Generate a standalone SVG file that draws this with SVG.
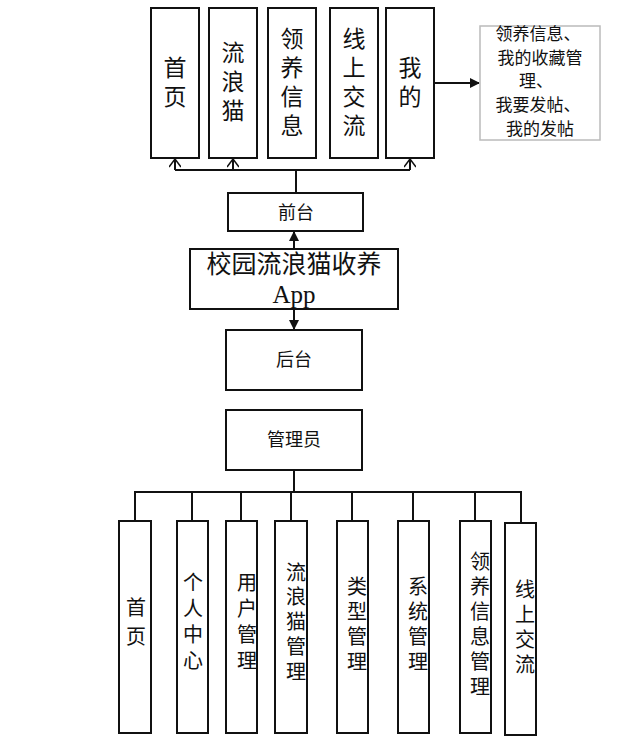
<svg xmlns="http://www.w3.org/2000/svg" width="630" height="737" viewBox="0 0 630 737">
<defs>
<style>
.b{fill:#fff;stroke:#111;stroke-width:2}
.t{font-family:"Liberation Serif","Noto Sans CJK SC",serif;fill:#111;text-anchor:middle}
.l{fill:none;stroke:#111;stroke-width:2}
.big{font-size:23px}.mid{font-size:17px}.sm{font-size:18px}.v{font-size:20px}
</style>
<marker id="f" markerWidth="10" markerHeight="10" refX="9" refY="5" orient="auto" markerUnits="userSpaceOnUse"><path d="M0,0L10,5L0,10z" fill="#111"/></marker>
<marker id="o" markerWidth="12" markerHeight="12" refX="10" refY="6" orient="auto" markerUnits="userSpaceOnUse"><path d="M2,0L10,6L2,12" fill="none" stroke="#111" stroke-width="1.5"/></marker>
</defs>
<rect width="630" height="737" fill="#fff"/>
<g id="connectors">
<path class="l" d="M175,170H410M296,170V193"/>
<path class="l" d="M175,170V159" marker-end="url(#o)"/>
<path class="l" d="M233,170V159" marker-end="url(#o)"/>
<path class="l" d="M410,170V159" marker-end="url(#o)"/>
<path class="l" d="M434,83H479" marker-end="url(#f)"/>
<path class="l" d="M294,249V232" marker-end="url(#f)"/>
<path class="l" d="M294,309V329" marker-end="url(#f)"/>
<path class="l" d="M294,470V492M135,521V492H521V523M192,492V521M241,492V521M291,492V521M352,492V521M413,492V521M475,492V521"/>
</g>
<g id="n1"><rect class="b" x="151" y="8" width="48" height="150"/><text class="t big"><tspan x="175" y="76">首</tspan><tspan x="175" y="105">页</tspan></text></g>
<g id="n2"><rect class="b" x="209" y="8" width="48" height="150"/><text class="t big"><tspan x="233" y="61">流</tspan><tspan x="233" y="90">浪</tspan><tspan x="233" y="119">猫</tspan></text></g>
<g id="n3"><rect class="b" x="268" y="8" width="48" height="150"/><text class="t big"><tspan x="292" y="47">领</tspan><tspan x="292" y="76">养</tspan><tspan x="292" y="105">信</tspan><tspan x="292" y="134">息</tspan></text></g>
<g id="n4"><rect class="b" x="330" y="8" width="48" height="150"/><text class="t big"><tspan x="354" y="47">线</tspan><tspan x="354" y="76">上</tspan><tspan x="354" y="105">交</tspan><tspan x="354" y="134">流</tspan></text></g>
<g id="n5"><rect class="b" x="386" y="8" width="48" height="150"/><text class="t big"><tspan x="410" y="76">我</tspan><tspan x="410" y="105">的</tspan></text></g>
<g id="n6"><rect x="480" y="26" width="120" height="114" fill="#fff" stroke="#bbb" stroke-width="1.5"/><text class="t mid"><tspan x="538" y="40">领养信息、</tspan><tspan x="540" y="64">我的收藏管</tspan><tspan x="536" y="87">理、</tspan><tspan x="538" y="111">我要发帖、</tspan><tspan x="540" y="135">我的发帖</tspan></text></g>
<g id="qiantai"><rect class="b" x="228" y="193" width="135" height="38"/><text class="t sm" x="296" y="219">前台</text></g>
<g id="app"><rect class="b" x="190" y="249" width="208" height="60"/><text class="t" style="font-size:25px"><tspan x="294" y="273">校园流浪猫收养</tspan><tspan x="294" y="303">App</tspan></text></g>
<g id="houtai"><rect class="b" x="226" y="330" width="136" height="60"/><text class="t sm" x="294" y="366">后台</text></g>
<g id="admin"><rect class="b" x="226" y="410" width="136" height="60"/><text class="t sm" x="294" y="446">管理员</text></g>
<g id="m1"><rect class="b" x="119" y="521" width="32" height="212"/><text class="t v"><tspan x="136" y="615">首</tspan><tspan x="136" y="644">页</tspan></text></g>
<g id="m2"><rect class="b" x="177" y="521" width="31" height="212"/><text class="t v"><tspan x="193" y="590">个</tspan><tspan x="193" y="616">人</tspan><tspan x="193" y="642">中</tspan><tspan x="193" y="668">心</tspan></text></g>
<g id="m3"><rect class="b" x="226" y="521" width="31" height="212"/><text class="t v"><tspan x="247" y="590">用</tspan><tspan x="247" y="616">户</tspan><tspan x="247" y="642">管</tspan><tspan x="247" y="668">理</tspan></text></g>
<g id="m4"><rect class="b" x="275" y="521" width="32" height="212"/><text class="t v"><tspan x="296" y="580">流</tspan><tspan x="296" y="604">浪</tspan><tspan x="296" y="629">猫</tspan><tspan x="296" y="654">管</tspan><tspan x="296" y="679">理</tspan></text></g>
<g id="m5"><rect class="b" x="337" y="521" width="31" height="212"/><text class="t v"><tspan x="357" y="594">类</tspan><tspan x="357" y="619">型</tspan><tspan x="357" y="644">管</tspan><tspan x="357" y="669">理</tspan></text></g>
<g id="m6"><rect class="b" x="398" y="521" width="31" height="212"/><text class="t v"><tspan x="418" y="594">系</tspan><tspan x="418" y="619">统</tspan><tspan x="418" y="644">管</tspan><tspan x="418" y="669">理</tspan></text></g>
<g id="m7"><rect class="b" x="460" y="521" width="31" height="212"/><text class="t v"><tspan x="480" y="569">领</tspan><tspan x="480" y="594">养</tspan><tspan x="480" y="619">信</tspan><tspan x="480" y="644">息</tspan><tspan x="480" y="669">管</tspan><tspan x="480" y="694">理</tspan></text></g>
<g id="m8"><rect class="b" x="505" y="523" width="31" height="212"/><text class="t v"><tspan x="525" y="597">线</tspan><tspan x="525" y="622">上</tspan><tspan x="525" y="647">交</tspan><tspan x="525" y="672">流</tspan></text></g>
</svg>
